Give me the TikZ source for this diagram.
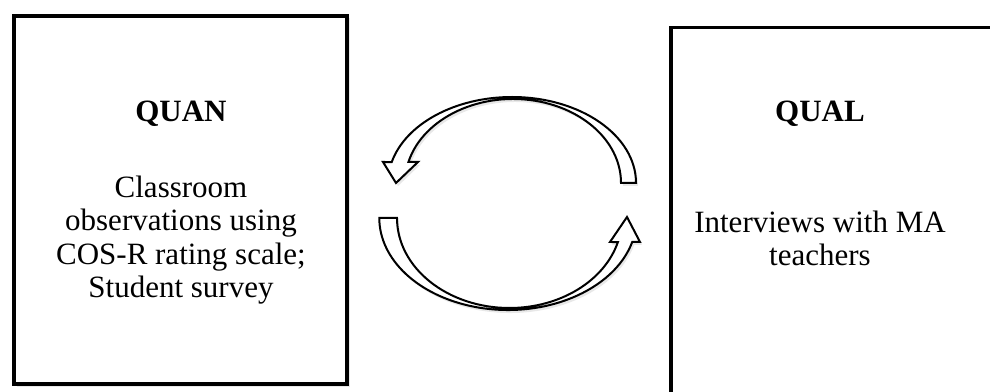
\documentclass[tikz,border=0pt]{standalone}
\usepackage{fontspec}
\setmainfont{Liberation Serif}
\usetikzlibrary{positioning,calc,shadows}

\begin{document}
\begin{tikzpicture}[
    x=1pt, y=1pt,
    every node/.style={font=\fontsize{31}{33.5}\selectfont},
    phasebox/.style={draw, line width=3.5pt, fill=white, inner sep=0pt,
      drop shadow={shadow xshift=2.5pt, shadow yshift=-2.5pt, opacity=0.18}},
    heading/.style={font=\fontsize{31}{33.5}\selectfont\bfseries, anchor=base},
    detail/.style={align=center, anchor=north, inner sep=0pt},
    cyclearrow/.style={draw, line width=2pt, fill=white, line join=miter,
      drop shadow={shadow xshift=2pt, shadow yshift=-3pt, opacity=0.18}},
  ]
  \clip (0,0) rectangle (990,391);

  % Phase boxes
  \node[phasebox, minimum width=333pt, minimum height=368pt] (quan) at (180.5,191) {};
  \node[phasebox, minimum width=360pt, minimum height=400pt, anchor=north west] (qual) at (669,365) {};

  % Box texts
  \node[heading] (quantitle) at (181,269) {QUAN};
  \node[detail] (quantext) at (181,215.5) {Classroom\\observations using\\COS-R rating scale;\\Student survey};
  \node[heading] (qualtitle) at (820,269) {QUAL};
  \node[detail] (qualtext) at (820,180.5) {Interviews with MA\\teachers};

  % Cycle arrows
  \coordinate (topc) at (512,208);
  \coordinate (botc) at (508,173);
  \path[cyclearrow] ($(topc)+(0:124 and 86)$)
      arc[start angle=0, end angle=165.87, x radius=124, y radius=86]
      -- (383,229) -- (396,208) -- (418,229)
      -- ($(topc)+(1,0)+(165.52:108 and 84)$)
      arc[start angle=165.52, end angle=0, x radius=108, y radius=84] -- cycle;
  \path[cyclearrow] ($(botc)+(1.5,0)+(180:112.5 and 90)$)
      arc[start angle=180, end angle=344.53, x radius=112.5, y radius=90]
      -- (610,149) -- (627,174) -- (640,149)
      -- ($(botc)+(344.88:128.7 and 92)$)
      arc[start angle=344.88, end angle=180, x radius=128.7, y radius=92] -- cycle;
\end{tikzpicture}
\end{document}
